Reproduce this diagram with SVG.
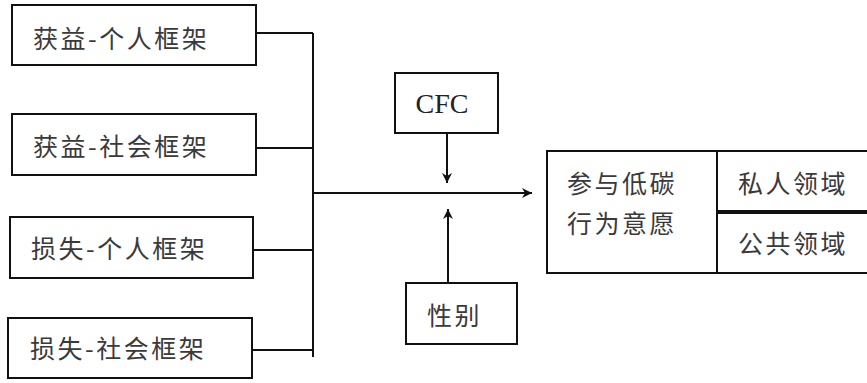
<svg xmlns="http://www.w3.org/2000/svg" width="867" height="383" viewBox="0 0 867 383">
<defs>
<marker id="ah" viewBox="0 0 10 10" refX="10" refY="5" markerWidth="10" markerHeight="10" markerUnits="userSpaceOnUse" orient="auto">
<path d="M0,0 L10,5 L0,10 L3,5 Z" fill="#111"/>
</marker>
</defs>
<style>
.box{fill:#fff;stroke:#111;stroke-width:2}
.t{font-family:"Noto Sans CJK SC","Noto Sans CJK JP",sans-serif;font-size:25px;fill:#3a3a3a;letter-spacing:2.5px}
.s{font-family:"Liberation Serif",serif;font-size:28px;fill:#222}
.ln{fill:none;stroke:#111;stroke-width:2}
</style>
<rect width="867" height="383" fill="#fff"/>
<g id="connectors">
<path class="ln" d="M256,33 H313 M256,148 H313 M253,250 H313 M252,350 H313 M313,33 V357"/>
<path class="ln" d="M313,193 H532" marker-end="url(#ah)"/>
<path class="ln" d="M447,133 V183" marker-end="url(#ah)"/>
<path class="ln" d="M448,283 V209" marker-end="url(#ah)"/>
</g>
<g id="n1"><rect class="box" x="12" y="5" width="244" height="60"/><text class="t" x="33" y="48">获益-个人框架</text></g>
<g id="n2"><rect class="box" x="12" y="114" width="244" height="61"/><text class="t" x="33" y="156">获益-社会框架</text></g>
<g id="n3"><rect class="box" x="10" y="217" width="243" height="61"/><text class="t" x="31" y="258">损失-个人框架</text></g>
<g id="n4"><rect class="box" x="8" y="318" width="244" height="60"/><text class="t" x="30" y="358">损失-社会框架</text></g>
<g id="cfc"><rect class="box" x="395" y="73" width="103" height="60"/><text class="s" x="442" y="113" text-anchor="middle">CFC</text></g>
<g id="gender"><rect class="box" x="406" y="283" width="111" height="61"/><text class="t" x="427" y="325">性别</text></g>
<g id="main"><rect class="box" x="547" y="151" width="170" height="122"/><text class="t" x="567" y="193">参与低碳</text><text class="t" x="567" y="233">行为意愿</text></g>
<g id="private"><rect class="box" x="717" y="151" width="152" height="60"/><text class="t" x="738" y="193">私人领域</text></g>
<g id="public"><rect class="box" x="717" y="213" width="152" height="60"/><text class="t" x="738" y="253">公共领域</text></g>
</svg>
